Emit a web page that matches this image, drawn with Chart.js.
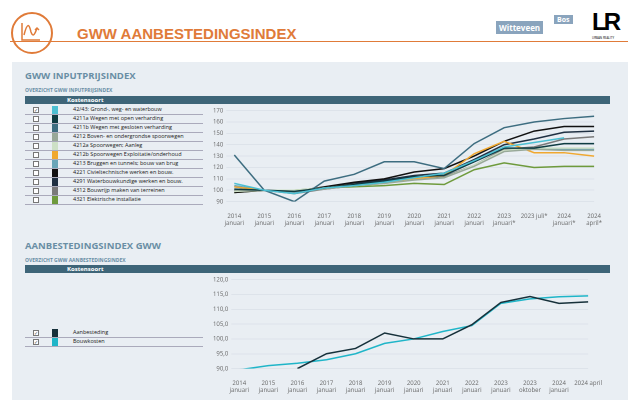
<!DOCTYPE html>
<html><head><meta charset="utf-8">
<script src="https://cdn.jsdelivr.net/npm/chart.js@4"></script>
<style>
body{margin:0;width:640px;height:400px;overflow:hidden;font-family:"Open Sans",sans-serif;background:#fff;position:relative}
.abs{position:absolute}
#panel{left:12px;top:62px;width:616px;height:338px;background:#e9eef3}
.title{color:#6a8ea5;font-weight:bold;font-size:9.5px}
.sub{color:#6a8fa6;font-weight:bold;font-size:5px}
.bar{background:#3e6578;height:8px;left:25px;width:585px;color:#fff;font-weight:bold;font-size:6px;line-height:8px}
.row{font-size:5.5px;color:#222;height:9px;line-height:9px;left:25px;width:178px;border-bottom:0.5px solid #aab}
.cb{position:absolute;left:8px;top:2px;width:4px;height:4px;border:0.7px solid #777;background:#fff;font-size:5px;line-height:4px;color:#555}
.sw{position:absolute;left:27px;top:0.5px;width:6px;height:8px}
.tx{position:absolute;left:48px}
</style></head><body>
<div class="abs" style="left:11px;top:12px;width:38px;height:38px;border:2px solid #e07b39;border-radius:50%"></div>
<svg class="abs" style="left:19px;top:21px" width="24" height="22"><path d="M3 2 V19 H21" stroke="#e07b39" stroke-width="1.5" fill="none"/><path d="M5 14 C8 2 10 2 12 11 C14 17 16 13 18 7 M16 9 L18 7 L20 9" stroke="#e07b39" stroke-width="1.5" fill="none"/></svg>
<div class="abs" style="left:10px;top:41px;width:618px;height:1px;background:#e07b39"></div>
<div class="abs" style="left:77px;top:25px;color:#e07b39;font-weight:bold;font-size:15px;font-family:'Liberation Sans Narrow','Liberation Sans'">GWW AANBESTEDINGSINDEX</div>
<div class="abs" style="left:496px;top:21px;background:#8aa4bd;color:#fff;font-size:8px;font-weight:bold;padding:1px 3px">Witteveen</div>
<div class="abs" style="left:554px;top:15px;background:#8aa4bd;color:#fff;font-size:7px;font-weight:bold;padding:0 3px">Bos</div>
<div class="abs" style="left:592px;top:8px;font-size:24px;font-weight:bold;font-family:'Liberation Sans';letter-spacing:-3px">LR</div>
<div class="abs" style="left:592px;top:36px;font-size:3px">URBAN REALITY</div>
<div id="panel" class="abs"></div>
<div class="abs title" style="left:25px;top:69px">GWW INPUTPRIJSINDEX</div>
<div class="abs sub" style="left:25px;top:87px">OVERZICHT GWW INPUTPRIJSINDEX</div>
<div class="abs bar" style="top:96px"><span style="margin-left:42px">Kostensoort</span></div>
<div id="leg1"></div>
<div class="abs title" style="left:25px;top:239px">AANBESTEDINGSINDEX GWW</div>
<div class="abs sub" style="left:25px;top:257px">OVERZICHT GWW AANBESTEDINGSINDEX</div>
<div class="abs bar" style="top:265px"><span style="margin-left:42px">Kostensoort</span></div>
<div id="leg2"></div>
<canvas id="c1" class="abs" style="left:210px;top:104px;width:395px;height:126px"></canvas>
<canvas id="c2" class="abs" style="left:210px;top:273px;width:395px;height:124px"></canvas>
<script>
const labels1 = [["2014","januari"],["2015","januari"],["2016","januari"],["2017","januari"],["2018","januari"],["2019","januari"],["2020","januari"],["2021","januari"],["2022","januari"],["2023","januari*"],["2023 juli*",""],["2024","januari*"],["2024","april*"]];
const names1 = ["42/43: Grond-, weg- en waterbouw","4211a Wegen met open verharding","4211b Wegen met gesloten verharding","4212 Boven- en ondergrondse spoorwegen","4212a Spoorwegen; Aanleg","4212b Spoorwegen Exploitatie/onderhoud","4213 Bruggen en tunnels; bouw van brug","4221 Civieltechnische werken en bouw.","4291 Waterbouwkundige werken en bouw.","4312 Bouwrijp maken van terreinen","4321 Elektrische installatie"];
const colors1 = ["#4cbfd2","#0e3c42","#3d6d80","#98a898","#cde0c6","#f0a830","#6aa6b8","#111111","#1f3042","#7a7a7a","#6e9a3c"];
const v4243 = [106,100,97,102,104,107,111,115,126,138,142,146,null];
const v4211a = [101,100,99,102,105,108,112,113,125,137,137,141,141];
const v4211b = [131,100,90,108,114,125,125,119,141,155,160,163,165];
const v4212 = [100,100,99,101,104,106,109,111,121,134,136,135,135];
const v4212a = [99,100,100,102,104,106,109,111,122,135,137,137,137];
const v4212b = [103,100,99,102,105,107,110,113,132,143,133,133,130];
const v4213 = [104,100,98,102,104,107,111,114,126,137,136,136,136];
const v4221 = [98,100,99,103,107,110,116,119,130,143,152,156,156];
const v4291 = [100,100,98,102,106,109,113,115,127,140,145,151,152];
const v4312 = [103,100,97,101,104,106,110,112,122,136,138,145,147];
const v4321 = [98,100,100,102,103,104,106,105,118,124,120,121,121];
const series1 = [v4243,v4211a,v4211b,v4212,v4212a,v4212b,v4213,v4221,v4291,v4312,v4321];

const labels2 = [["2014","januari"],["2015","januari"],["2016","januari"],["2017","januari"],["2018","januari"],["2019","januari"],["2020","januari"],["2021","januari"],["2022","januari"],["2023","januari"],["2023","oktober"],["2024","januari"],["2024 april",""]];
const names2 = ["Aanbesteding","Bouwkosten"];
const colors2 = ["#16303a","#1fb5c8"];
const aanbesteding = [null,null,90,95,96.8,102,100,100,104.8,112.3,114.3,112,112.5];
const bouwkosten = [89.6,91,91.8,93,95,98.5,100,102.5,104.5,112,113.5,114.2,114.5];

function legend(id, names, colors, top, checked) {
  const el = document.getElementById(id);
  names.forEach((n, i) => {
    const r = document.createElement("div");
    r.className = "abs row";
    r.style.top = (top + i * 9) + "px";
    r.innerHTML = `<span class="cb">${checked(i) ? "✓" : ""}</span><span class="sw" style="background:${colors[i]}"></span><span class="tx">${n}</span>`;
    el.appendChild(r);
  });
}
legend("leg1", names1, colors1, 105, i => i === 0);
legend("leg2", names2, colors2, 328, () => true);

const tickFont = { size: 6, family: "Open Sans" };
function makeChart(id, labels, datasets, min, max, step, fmt) {
  new Chart(document.getElementById(id), {
    type: "line",
    data: { labels, datasets },
    options: {
      responsive: false, animation: false, devicePixelRatio: 2,
      plugins: { legend: { display: false }, tooltip: { enabled: false } },
      elements: { point: { radius: 0 }, line: { borderWidth: 1.5, tension: 0 } },
      layout: { padding: { top: 4, right: 6 } },
      scales: {
        x: { grid: { display: false }, border: { display: false }, ticks: { color: "#666", font: tickFont, maxRotation: 0, autoSkip: false } },
        y: { min, max, grid: { color: "#dde3ea" }, border: { display: false }, ticks: { stepSize: step, color: "#666", font: tickFont, callback: fmt } }
      }
    }
  });
}
makeChart("c1", labels1, series1.map((d, i) => ({ data: d, borderColor: colors1[i], order: i === 0 ? 0 : 1 })), 90, 170, 10, v => v);
makeChart("c2", labels2, [
  { data: aanbesteding, borderColor: colors2[0] },
  { data: bouwkosten, borderColor: colors2[1] }
], 90, 120, 5, v => v.toFixed(1).replace(".", ","));
</script>
</body></html>
